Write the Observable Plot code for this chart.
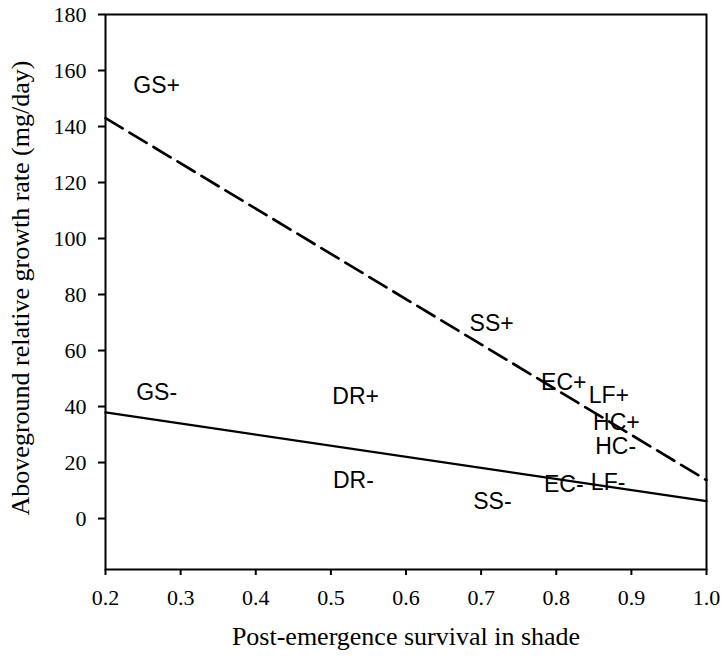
<!DOCTYPE html>
<html><head><meta charset="utf-8">
<script src="https://cdn.jsdelivr.net/npm/d3@7"></script>
<script src="https://cdn.jsdelivr.net/npm/@observablehq/plot@0.6"></script>
<style>body{margin:0;background:#fff}</style>
</head><body><div id="chart"></div>
<script>
const labelNames = ["GS+","GS-","DR+","DR-","SS+","SS-","EC+","LF+","HC+","HC-","EC-","LF-"];
const labelX = [0.268,0.268,0.533,0.530,0.714,0.715,0.810,0.870,0.880,0.879,0.810,0.869];
const labelY = [154.6,44.8,43.6,13.6,69.6,5.9,48.6,43.9,34.1,25.7,12.0,12.7];
const dashedX = [0.2, 1.0];
const dashedY = [143, 13.7];
const solidX = [0.2, 1.0];
const solidY = [37.9, 6.2];
const xTicks = [0.2, 0.3, 0.4, 0.5, 0.6, 0.7, 0.8, 0.9, 1.0];
const yTicks = [0, 20, 40, 60, 80, 100, 120, 140, 160, 180];
const xTitle = "Post-emergence survival in shade";
const yTitle = "Aboveground relative growth rate (mg/day)";

const dashed = dashedX.map((x, i) => ({x, y: dashedY[i]}));
const solid = solidX.map((x, i) => ({x, y: solidY[i]}));
const labels = labelNames.map((t, i) => ({t, x: labelX[i], y: labelY[i]}));
const serif = "'Liberation Serif', 'Times New Roman', serif";
const sans = "'Liberation Sans', Arial, sans-serif";

const chart = Plot.plot({
  width: 722, height: 661,
  marginLeft: 105, marginRight: 16, marginTop: 14, marginBottom: 92,
  style: {fontFamily: serif, fontSize: "21px", color: "black", background: "white"},
  x: {domain: [0.2, 1.0]},
  y: {domain: [-18.2, 180]},
  marks: [
    Plot.frame({stroke: "black", strokeWidth: 2}),
    Plot.axisX({ticks: xTicks, tickSize: 6, tickPadding: 14, tickFormat: d => d.toFixed(1), label: null, strokeWidth: 2, fontSize: 22}),
    Plot.axisY({ticks: yTicks, tickSize: 7, tickPadding: 12, tickFormat: d => String(d), label: null, strokeWidth: 2, fontSize: 22}),
    Plot.line(dashed, {x: "x", y: "y", stroke: "black", strokeWidth: 2.7, strokeDasharray: "20,8"}),
    Plot.line(solid, {x: "x", y: "y", stroke: "black", strokeWidth: 2.4}),
    Plot.text(labels, {x: "x", y: "y", text: "t", fontFamily: sans, fontSize: 23, fill: "black"}),
    Plot.text([xTitle], {text: d => d, frameAnchor: "bottom", textAnchor: "middle", dy: 75, fontSize: 26, fill: "black"}),
    Plot.text([yTitle], {text: d => d, frameAnchor: "left", textAnchor: "middle", rotate: -90, dx: -85, dy: -4, fontSize: 26, fill: "black"})
  ]
});
document.getElementById("chart").appendChild(chart);
</script>
</body></html>
